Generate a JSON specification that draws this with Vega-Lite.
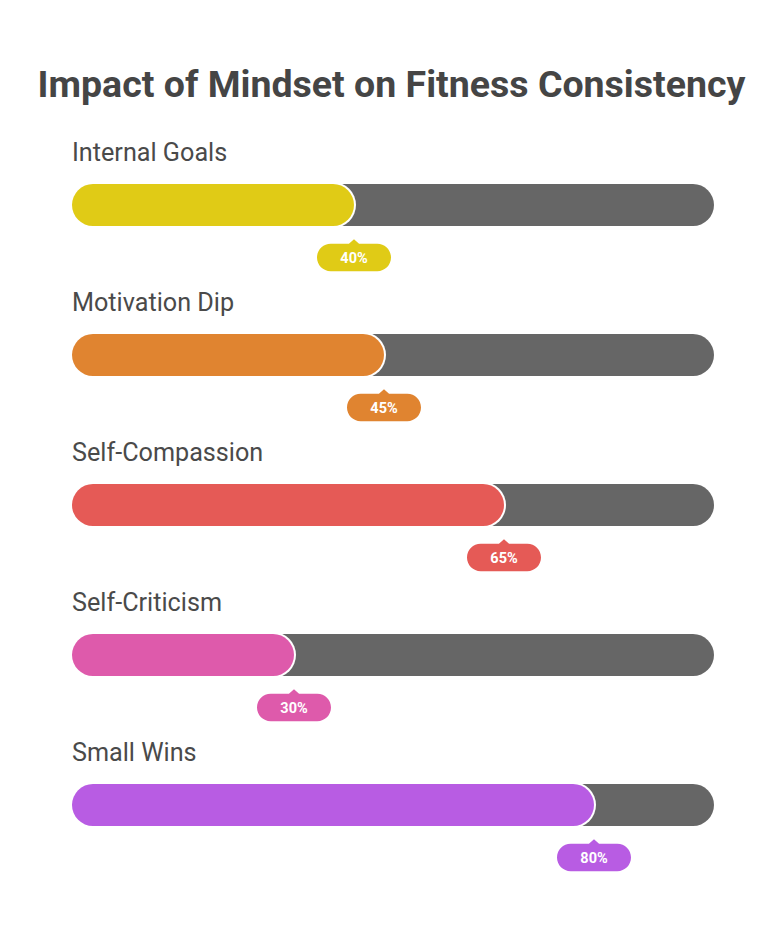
{
  "$schema": "https://vega.github.io/schema/vega-lite/v6.json",
  "width": 783,
  "height": 824,
  "autosize": "none",
  "padding": {"top": 110, "left": 0, "right": 0, "bottom": 0},
  "background": "#ffffff",
  "view": {"stroke": null},
  "title": {
    "text": "Impact of Mindset on Fitness Consistency",
    "font": "Roboto",
    "fontSize": 37.5,
    "fontWeight": "bold",
    "color": "#454545",
    "anchor": "middle",
    "frame": "group",
    "baseline": "alphabetic",
    "offset": -24
  },
  "data": {
    "values": [
      {"name": "Internal Goals", "start": 0, "value": 40, "full": 100, "label": "40%"},
      {"name": "Motivation Dip", "start": 0, "value": 45, "full": 100, "label": "45%"},
      {"name": "Self-Compassion", "start": 0, "value": 65, "full": 100, "label": "65%"},
      {"name": "Self-Criticism", "start": 0, "value": 30, "full": 100, "label": "30%"},
      {"name": "Small Wins", "start": 0, "value": 80, "full": 100, "label": "80%"}
    ]
  },
  "layer": [
    {
      "mark": {"type": "rule", "strokeWidth": 42, "strokeCap": "round", "color": "#666666"},
      "encoding": {
        "y": {
          "field": "name",
          "type": "nominal",
          "axis": null,
          "scale": {
            "type": "point",
            "padding": 0,
            "domain": ["Internal Goals", "Motivation Dip", "Self-Compassion", "Self-Criticism", "Small Wins"],
            "range": [95, 695]
          }
        },
        "x": {"field": "start", "type": "quantitative", "axis": null, "scale": {"domain": [0, 100], "range": [93, 693], "zero": false, "nice": false}},
        "x2": {"field": "full"}
      }
    },
    {
      "mark": {"type": "rule", "strokeWidth": 46, "strokeCap": "round", "color": "#ffffff"},
      "encoding": {
        "y": {"field": "name", "type": "nominal"},
        "x": {"field": "start", "type": "quantitative"},
        "x2": {"field": "value"}
      }
    },
    {
      "mark": {"type": "rule", "strokeWidth": 42, "strokeCap": "round"},
      "encoding": {
        "y": {"field": "name", "type": "nominal"},
        "x": {"field": "start", "type": "quantitative"},
        "x2": {"field": "value"},
        "color": {
          "field": "name",
          "type": "nominal",
          "legend": null,
          "scale": {
            "domain": ["Internal Goals", "Motivation Dip", "Self-Compassion", "Self-Criticism", "Small Wins"],
            "range": ["#E0CB16", "#E08430", "#E55A56", "#DE5AAB", "#B85CE3"]
          }
        }
      }
    },
    {
      "mark": {"type": "text", "font": "Roboto", "fontSize": 25.2, "color": "#4a4a4a", "align": "left", "baseline": "alphabetic", "dx": -21, "dy": -44},
      "encoding": {
        "y": {"field": "name", "type": "nominal"},
        "x": {"field": "start", "type": "quantitative"},
        "text": {"field": "name"}
      }
    },
    {
      "mark": {
        "type": "point",
        "filled": true,
        "opacity": 1,
        "size": 5476,
        "strokeWidth": 0,
        "xOffset": 21,
        "yOffset": 52.5,
        "shape": "M -0.63 -0.37 L -0.137 -0.37 L 0 -0.49 L 0.137 -0.37 L 0.63 -0.37 A 0.37 0.37 0 0 1 0.63 0.37 L -0.63 0.37 A 0.37 0.37 0 0 1 -0.63 -0.37 Z"
      },
      "encoding": {
        "y": {"field": "name", "type": "nominal"},
        "x": {"field": "value", "type": "quantitative"},
        "color": {"field": "name", "type": "nominal", "legend": null}
      }
    },
    {
      "mark": {"type": "text", "font": "Roboto", "fontSize": 14.5, "fontWeight": "bold", "color": "#ffffff", "align": "center", "baseline": "alphabetic", "dx": 21, "dy": 57.5},
      "encoding": {
        "y": {"field": "name", "type": "nominal"},
        "x": {"field": "value", "type": "quantitative"},
        "text": {"field": "label"}
      }
    }
  ]
}
